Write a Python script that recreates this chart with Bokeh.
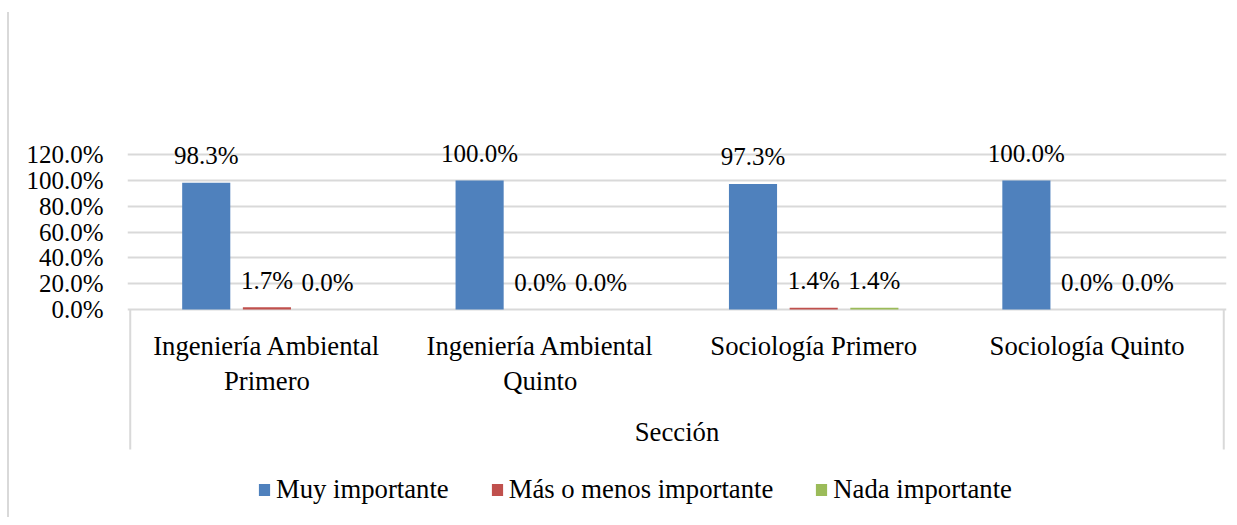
from bokeh.plotting import figure
from bokeh.models import FixedTicker, NumeralTickFormatter, Legend, LegendItem, Range1d, InlineStyleSheet
from bokeh.core.properties import value
from bokeh.embed import file_html
from bokeh.resources import INLINE

categories = ["Ingeniería Ambiental\nPrimero", "Ingeniería Ambiental\nQuinto",
              "Sociología Primero", "Sociología Quinto"]
series_names = ["Muy importante", "Más o menos importante", "Nada importante"]
muy = [0.983, 1.000, 0.973, 1.000]
mas = [0.017, 0.000, 0.014, 0.000]
nada = [0.000, 0.000, 0.014, 0.000]
y_ticks = [0.0, 0.2, 0.4, 0.6, 0.8, 1.0, 1.2]
axis_title = "Sección"
colors = ["#4f81bd", "#c0504d", "#9bbb59"]

FONT = "Liberation Serif"
FS = "25px"      # tick and data labels
FS2 = "26.7px"   # category labels, axis title, legend
GRID = "#d9d9d9"

p = figure(width=1229, height=517, output_backend="svg", toolbar_location=None,
           x_range=Range1d(-0.01, 4.01), y_range=Range1d(-1.6126, 1.62),
           x_axis_location=None,
           min_border_left=127, min_border_right=3, min_border_top=100, min_border_bottom=0)
p.outline_line_color = None
p.xgrid.visible = False
p.ygrid.ticker = FixedTicker(ticks=y_ticks)
p.ygrid.grid_line_color = GRID
p.ygrid.grid_line_width = 2

# thin outer chart border at the left edge
p.stylesheets = [InlineStyleSheet(css=":host::before { content: ''; position: absolute; left: 7px; "
                                      "top: 12px; bottom: 0; width: 2px; background: #d9d9d9; z-index: 5; }")]

ax = p.yaxis[0]
ax.ticker = FixedTicker(ticks=y_ticks)
ax.formatter = NumeralTickFormatter(format="0.0%")
ax.axis_line_color = None
ax.major_tick_line_color = None
ax.minor_tick_line_color = None
ax.major_tick_out = 0
ax.major_tick_in = 0
ax.major_label_standoff = 24
ax.major_label_text_font = FONT
ax.major_label_text_font_size = FS
ax.major_label_text_color = "black"

# category box lines
p.segment(x0=[0, len(categories)], y0=[0, 0], x1=[0, len(categories)], y1=[-1.085, -1.085],
          line_color=GRID, line_width=2)

offsets = [-0.222, 0.0, 0.222]
bw = 0.176
renderers = []
for k, (vals, col) in enumerate(zip([muy, mas, nada], colors)):
    xs = [i + 0.5 + offsets[k] for i in range(len(categories))]
    r = p.vbar(x=xs, top=vals, bottom=0, width=bw, fill_color=col, line_color=None)
    renderers.append(r)
    p.text(x=xs, y=vals, text=[f"{v*100:.1f}%" for v in vals], y_offset=-27,
           text_align="center", text_baseline="middle",
           text_font=value(FONT), text_font_size=FS, text_color="black")

# category labels
lx, ly, lt, lo = [], [], [], []
for i, c in enumerate(categories):
    for j, line in enumerate(c.split("\n")):
        lx.append(i + 0.5)
        ly.append(0)
        lt.append(line)
        lo.append(37 + 35 * j)
p.text(x=lx, y=ly, text=lt, y_offset=lo, text_align="center", text_baseline="middle",
       text_font=value(FONT), text_font_size=FS2, text_color="black")

p.text(x=[len(categories) / 2], y=[0], text=[axis_title], y_offset=123,
       text_align="center", text_baseline="middle",
       text_font=value(FONT), text_font_size=FS2, text_color="black")

legend = Legend(items=[LegendItem(label=n, renderers=[r]) for n, r in zip(series_names, renderers)],
                orientation="horizontal", location=(130, 12),
                glyph_width=14, glyph_height=15, label_standoff=5, spacing=41,
                padding=0, margin=0, border_line_color=None, background_fill_alpha=0,
                label_text_font=FONT, label_text_font_size=FS2, label_text_color="black")
p.add_layout(legend)

open("out.html", "w").write(file_html(p, INLINE))
